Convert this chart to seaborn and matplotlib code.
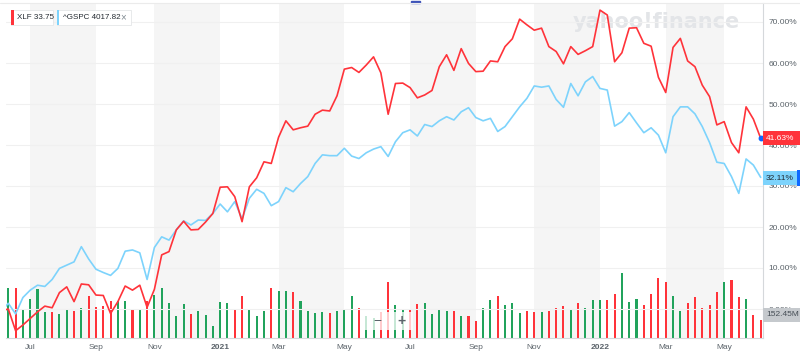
import numpy as np
import pandas as pd
import matplotlib.pyplot as plt
import seaborn as sns
from matplotlib.patches import Rectangle
from matplotlib.lines import Line2D

# -------------------------------------------------
# data (weekly % change, first value is the week before the visible range)
# -------------------------------------------------
start_week = "2020-06-08"

xlf_pct = [
    -0.5,
    0.0, -5.3, -3.9, -2.3, -0.7, 0.7, 0.3, 4.0, 5.4, 1.8,
    6.1, 5.9, 3.4, 3.3, -1.1, 1.8, 5.6, 4.6, 5.8, 0.4,
    4.8, 13.2, 14.0, 19.3, 21.4, 19.3, 19.4, 21.2, 23.3, 29.7,
    29.8, 27.4, 21.3, 29.8, 32.0, 35.9, 35.5, 41.9, 45.9, 43.7,
    44.2, 44.6, 47.5, 48.5, 48.3, 52.0, 58.5, 58.9, 57.7, 59.5,
    61.5, 57.6, 47.5, 55.0, 55.1, 54.0, 51.5, 52.2, 53.3, 59.1,
    62.0, 58.2, 63.5, 59.9, 57.9, 58.0, 60.5, 60.3, 64.0, 65.9,
    70.7, 69.3, 68.0, 68.5, 64.0, 62.8, 59.8, 64.0, 62.1, 63.0,
    64.0, 72.9, 71.7, 60.3, 62.5, 68.5, 68.6, 64.8, 64.1, 56.5,
    52.8, 63.8, 66.0, 60.5, 59.1, 54.6, 51.8, 44.9, 45.7, 40.6,
    38.1, 49.3, 46.3, 41.63,
]

gspc_pct = [
    -0.7,
    1.4, -1.2, 2.8, 4.6, 5.8, 5.5, 7.2, 9.9, 10.7, 11.5,
    15.2, 12.2, 9.7, 8.9, 8.2, 9.9, 14.1, 14.4, 13.7, 7.2,
    15.0, 17.6, 16.8, 19.3, 21.5, 20.5, 21.7, 21.6, 23.3, 25.6,
    23.7, 26.2, 22.0, 27.0, 29.2, 28.2, 25.2, 26.2, 29.6, 28.6,
    30.6, 32.3, 35.5, 37.6, 37.4, 37.4, 39.2, 37.3, 36.7, 38.1,
    39.0, 39.6, 37.2, 40.8, 43.0, 43.7, 42.2, 45.0, 44.5, 45.9,
    46.9, 46.1, 48.1, 49.1, 46.7, 45.9, 46.5, 43.3, 44.5, 46.9,
    49.3, 51.4, 54.4, 54.1, 54.4, 51.1, 49.2, 55.0, 52.0, 55.4,
    56.7, 53.8, 53.4, 44.6, 45.7, 47.9, 45.4, 43.0, 44.2, 42.4,
    38.1, 46.9, 49.3, 49.3, 47.6, 44.5, 40.6, 35.8, 35.5, 32.3,
    28.2, 36.6, 35.1, 32.11,
]

# XLF weekly volume, millions (visible weeks only)
xlf_vol = [
    426, 426, 243, 328, 418, 220, 220, 203, 243, 231,
    257, 356, 260, 271, 316, 311, 313, 237, 243, 316,
    364, 426, 294, 186, 288, 203, 226, 192, 102, 307,
    294, 237, 356, 246, 189, 229, 421, 401, 401, 387,
    316, 229, 212, 223, 214, 226, 243, 353, 252, 186,
    169, 218, 472, 282, 235, 243, 288, 296, 201, 240,
    229, 226, 189, 189, 144, 252, 322, 353, 282, 294,
    212, 226, 223, 218, 231, 254, 271, 237, 296, 254,
    322, 322, 322, 370, 553, 302, 328, 277, 370, 511,
    474, 353, 231, 296, 347, 252, 277, 392, 472, 489,
    347, 328, 195, 152.45,
]

xlf_last = "33.75"
gspc_last = "4017.82"
yticks = [0, 10, 20, 30, 40, 50, 60, 70]

RED = "#ff333a"
BLUE = "#7dd3fc"
GREEN = "#21a35c"
GREY_TXT = "#5b636a"

# -------------------------------------------------
# frames
# -------------------------------------------------
dates = pd.date_range(start_week, periods=len(xlf_pct), freq="7D")
pos = np.arange(len(xlf_pct)) - 1

prices = pd.DataFrame({"pos": pos, "XLF": xlf_pct, "^GSPC": gspc_pct})
long = prices.melt(id_vars="pos", var_name="sym", value_name="pct")

up = np.diff(xlf_pct) >= 0
vol = pd.DataFrame({"pos": pos[1:], "vol": xlf_vol, "up": up})

# month ticks: first week of each odd month
wk = dates[1:]
tick_pos, tick_lab = [], []
for k in range(1, len(wk)):
    if wk[k].month != wk[k - 1].month and wk[k].month % 2 == 1:
        tick_pos.append(k)
        tick_lab.append(str(wk[k].year) if wk[k].month == 1 else wk[k].strftime("%b"))

# -------------------------------------------------
# figure
# -------------------------------------------------
sns.set_theme(style="white")
plt.rcParams["font.family"] = ["Liberation Sans", "DejaVu Sans"]

W, H = 800, 359
fig = plt.figure(figsize=(W / 100, H / 100), dpi=100)

def fx(px):
    return px / W

def fy(py):
    return 1 - py / H

rect = [fx(6), fy(338), fx(763) - fx(6), fy(3) - fy(338)]
ax_v = fig.add_axes(rect)
ax = fig.add_axes(rect)
ax.patch.set_alpha(0)

step = 7.305
xlim = (-2.3 / step, len(xlf_vol) - 1 + 2.3 / step)
ax_v.set_xlim(*xlim)
ax.set_xlim(*xlim)

# shaded two-month bands
for a, b in zip(tick_pos[0::2], tick_pos[1::2]):
    ax_v.axvspan(a, b, color="#f5f5f5", lw=0, zorder=0)

# volume
ax_v.bar(vol["pos"], vol["vol"], width=0.28, lw=0,
         color=[GREEN if u else RED for u in vol["up"]], zorder=2)
ax_v.set_ylim(0, 152.45 * 335 / 18)
ax_v.set_yticks([])
ax_v.set_xticks(tick_pos)
ax_v.set_xticklabels(tick_lab)
ax_v.tick_params(axis="x", length=0, pad=4, labelsize=6, labelcolor=GREY_TXT)
for t in ax_v.get_xticklabels():
    if t.get_text().isdigit():
        t.set_fontweight("bold")
for s in ["top", "left", "right"]:
    ax_v.spines[s].set_visible(False)
ax_v.spines["bottom"].set_color("#d5d8db")
ax_v.spines["bottom"].set_linewidth(0.8)

# watermark
ax_v.text(fx(573), fy(22), "yahoo!finance", transform=fig.transFigure,
          fontsize=15, fontweight="bold", color="#e3e5e8", va="center",
          family="DejaVu Sans", zorder=1)

# price lines
sns.lineplot(data=long, x="pos", y="pct", hue="sym", hue_order=["^GSPC", "XLF"],
             palette={"XLF": RED, "^GSPC": BLUE}, lw=1.2, legend=False, ax=ax)
ax.plot([pos[-1]], [xlf_pct[-1]], "o", ms=3.2, color="#0f69ff", zorder=5, clip_on=False)

ax.set_ylim((309 - 338) / 4.1, (309 - 3) / 4.1)
ax.set_xlim(*xlim)
ax.yaxis.tick_right()
ax.set_yticks(yticks)
ax.set_yticklabels([f"{v:.2f}%" for v in yticks])
ax.tick_params(axis="y", length=0, pad=4, labelsize=6, labelcolor=GREY_TXT)
ax.tick_params(axis="x", bottom=False, labelbottom=False)
ax.set_xlabel("")
ax.set_ylabel("")
ax.grid(axis="y", color="#f0f0f0", lw=0.8)
for s in ["top", "left", "bottom"]:
    ax.spines[s].set_visible(False)
ax.spines["right"].set_color("#d5d8db")
ax.spines["right"].set_linewidth(0.8)

# top border
fig.add_artist(Line2D([0, 1], [fy(3), fy(3)], color="#ebebeb", lw=0.8))
fig.patches.append(Rectangle((fx(411), fy(3)), fx(9), 2 / H, color="#3d52b8",
                             transform=fig.transFigure, figure=fig))

# legend chips
def chip(x0, x1, col, label, close=False):
    fig.patches.append(Rectangle((fx(x0), fy(25)), fx(x1 - x0), 15 / H, fc="white",
                                 ec="#e4e6e8", lw=0.6, transform=fig.transFigure, figure=fig))
    fig.patches.append(Rectangle((fx(x0), fy(25)), fx(2.5), 15 / H, fc=col, lw=0,
                                 transform=fig.transFigure, figure=fig))
    fig.text(fx(x0 + 6), fy(17.5), label, fontsize=5.8, color="#232a31", va="center")
    if close:
        fig.text(fx(x1 - 8), fy(17.5), "×", fontsize=7, color="#828c93",
                 va="center", ha="center")

chip(11, 53, RED, f"XLF {xlf_last}")
chip(57, 131, BLUE, f"^GSPC {gspc_last}", close=True)

# end value tags
def tag(y0, y1, fc, txt, tc, x1=800):
    fig.patches.append(Rectangle((fx(763), fy(y1)), fx(x1 - 763), (y1 - y0) / H, fc=fc,
                                 lw=0, transform=fig.transFigure, figure=fig))
    fig.text(fx(766), fy((y0 + y1) / 2), txt, fontsize=6, color=tc, va="center")

tag(131, 145, RED, f"{xlf_pct[-1]:.2f}%", "white")
tag(171, 185, BLUE, f"{gspc_pct[-1]:.2f}%", "#232a31", x1=797)
fig.patches.append(Rectangle((fx(797), fy(186)), fx(3), 16 / H, fc="#0f69ff", lw=0,
                             transform=fig.transFigure, figure=fig))
tag(308, 322, "#c5c9cd", f"{xlf_vol[-1]:.2f}M", "#464e56")

# zoom control
fig.patches.append(Rectangle((fx(365), fy(330)), fx(48), 18 / H, fc="white", alpha=0.75,
                             lw=0, transform=fig.transFigure, figure=fig))
fig.text(fx(377), fy(321), "−", fontsize=10, color=GREY_TXT, ha="center", va="center")
fig.text(fx(401), fy(321), "+", fontsize=10, color=GREY_TXT, ha="center", va="center",
         fontweight="bold")

fig.savefig("out.png", dpi=100)
